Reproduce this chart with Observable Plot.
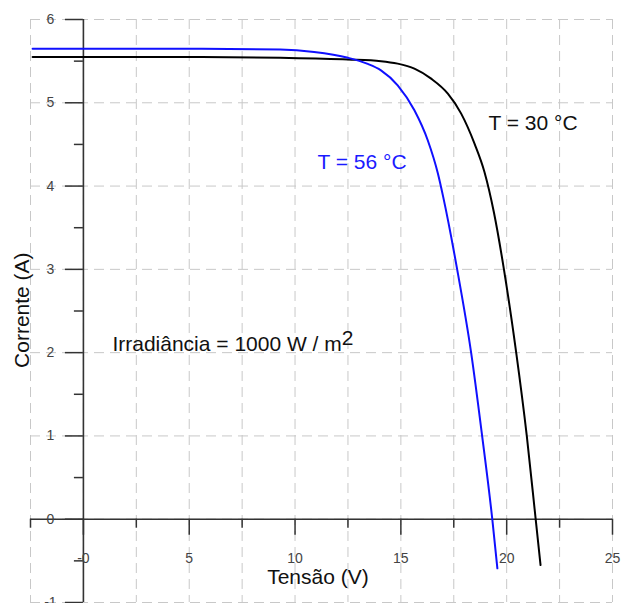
<!DOCTYPE html>
<html>
<head>
<meta charset="utf-8">
<script src="https://cdn.jsdelivr.net/npm/d3@7"></script>
<script src="https://cdn.jsdelivr.net/npm/@observablehq/plot@0.6"></script>
<style>
  html, body { margin: 0; padding: 0; background: #fff; }
  #chart { width: 622px; height: 603px; overflow: hidden; }
</style>
</head>
<body>
<div id="chart"></div>
<script>
// ---- Data ----
// T = 30 °C (black)
const v30 = [-2.4, 0, 5, 9.3, 12.5, 14.06, 14.85, 15.64, 16.43, 17.22, 17.85, 18.48, 18.95, 19.4, 19.87, 20.45, 20.95, 21.37, 21.6];
const i30 = [5.55, 5.55, 5.55, 5.54, 5.52, 5.50, 5.47, 5.41, 5.29, 5.11, 4.87, 4.51, 4.17, 3.68, 3.0, 2.0, 1.0, 0.0, -0.55];
// T = 56 °C (blue)
const v56 = [-2.4, 0, 5, 9.3, 10.9, 12.5, 13.4, 14.06, 14.85, 15.64, 16.27, 16.75, 17.0, 17.66, 18.32, 18.84, 19.32, 19.56];
const i56 = [5.65, 5.65, 5.65, 5.64, 5.61, 5.54, 5.47, 5.39, 5.21, 4.91, 4.55, 4.15, 3.87, 3.0, 2.0, 1.0, 0.0, -0.59];

// Ticks and labels
const xMajor = [0, 5, 10, 15, 20, 25];
const xLabels = ["-0", "5", "10", "15", "20", "25"];
const xMinor = [-2.5, 2.5, 7.5, 12.5, 17.5, 22.5];
const yMajor = [-1, 0, 1, 2, 3, 4, 5, 6];
const yLabels = ["-1", "0", "1", "2", "3", "4", "5", "6"];
const yMinor = [-0.5, 0.5, 1.5, 2.5, 3.5, 4.5, 5.5];
const gridXs = [-2.5, 0, 2.5, 5, 7.5, 10, 12.5, 15, 17.5, 20, 22.5, 25];
const gridYs = [-1, 0, 1, 2, 3, 4, 5, 6];

const xTitle = "Tensão (V)";
const yTitle = "Corrente (A)";
const label30 = "T = 30 °C";
const label56 = "T = 56 °C";
const irrText = "Irradiância = 1000 W / m2";

const s30 = v30.map((v, k) => ({v, i: i30[k]}));
const s56 = v56.map((v, k) => ({v, i: i56[k]}));

const gridStyle = {stroke: "#c8c8c8", strokeWidth: 1, strokeDasharray: "10,6"};
const axisColor = "#333";

const chart = Plot.plot({
  width: 622,
  height: 603,
  marginLeft: 30,
  marginRight: 10,
  marginTop: 19,
  marginBottom: 1,
  x: {domain: [-2.5, 25], axis: null},
  y: {domain: [-1, 6], axis: null},
  style: {fontFamily: "'Liberation Sans', Arial, sans-serif", background: "#fff", overflow: "visible"},
  marks: [
    // dashed grid
    Plot.ruleX(gridXs, {x: d => d, ...gridStyle}),
    Plot.ruleY(gridYs, {y: d => d, ...gridStyle}),
    // axes through the origin
    Plot.ruleX([0], {stroke: axisColor, strokeWidth: 1.6}),
    Plot.ruleY([0], {stroke: axisColor, strokeWidth: 1.6}),
    // y ticks (to the left of x = 0)
    Plot.ruleY(yMajor, {y: d => d, x1: 0, x2: 0, insetLeft: -18, stroke: axisColor, strokeWidth: 1.5}),
    Plot.ruleY(yMinor, {y: d => d, x1: 0, x2: 0, insetLeft: -9, stroke: axisColor, strokeWidth: 1.5}),
    // x ticks (below y = 0)
    Plot.ruleX(xMajor, {x: d => d, y1: 0, y2: 0, insetBottom: -16, stroke: axisColor, strokeWidth: 1.5}),
    Plot.ruleX(xMinor, {x: d => d, y1: 0, y2: 0, insetBottom: -9, stroke: axisColor, strokeWidth: 1.5}),
    // tick labels
    Plot.text(yMajor, {x: 0, y: d => d, text: (d, k) => yLabels[k], dx: -33, fontSize: 14, fill: "#444"}),
    Plot.text(xMajor, {x: d => d, y: 0, text: (d, k) => xLabels[k], dy: 39, fontSize: 14, fill: "#444"}),
    // curves
    Plot.line(s30, {x: "v", y: "i", stroke: "#000", strokeWidth: 2, curve: "monotone-x"}),
    Plot.line(s56, {x: "v", y: "i", stroke: "#1010ff", strokeWidth: 2, curve: "monotone-x"}),
    // annotations
    Plot.text([label30], {x: 19.14, y: 4.76, text: d => d, textAnchor: "start", fontSize: 21, fill: "#111"}),
    Plot.text([label56], {x: 11.06, y: 4.28, text: d => d, textAnchor: "start", fontSize: 21, fill: "#1a1aff"}),
    Plot.text([irrText], {x: 1.37, y: 2.1, text: d => d, textAnchor: "start", fontSize: 21, fill: "#111"}),
    // axis titles
    Plot.text([xTitle], {x: 11.08, y: -0.7, text: d => d, fontSize: 21, fill: "#111"}),
    Plot.text([yTitle], {x: -2.88, y: 2.51, text: d => d, rotate: -90, fontSize: 21, fill: "#111"})
  ]
});

// superscript "2" in m²
const svgns = "http://www.w3.org/2000/svg";
for (const t of chart.querySelectorAll("text")) {
  if (t.textContent === irrText) {
    t.textContent = irrText.slice(0, -1);
    const ts = document.createElementNS(svgns, "tspan");
    ts.setAttribute("dy", "-6");
    ts.textContent = irrText.slice(-1);
    t.appendChild(ts);
  }
}
document.getElementById("chart").appendChild(chart);
</script>
</body>
</html>
